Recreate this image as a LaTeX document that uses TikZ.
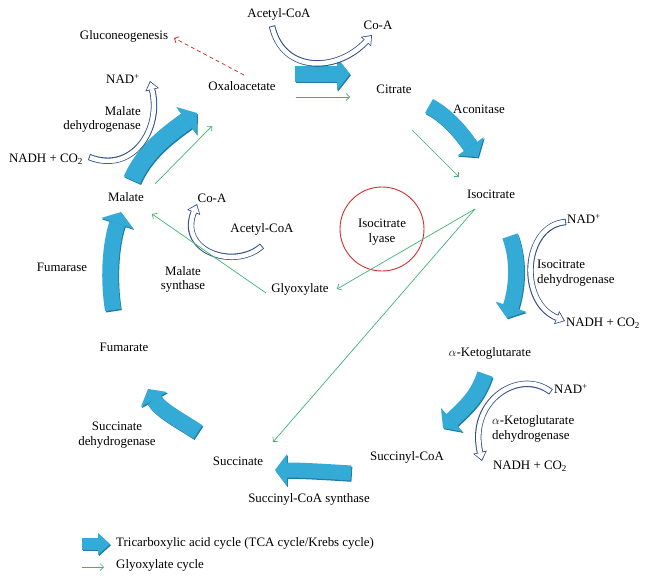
\documentclass[tikz,border=0pt]{standalone}
\usepackage{fontspec}
\setmainfont{Liberation Serif}
\usetikzlibrary{arrows.meta}
\definecolor{tca}{HTML}{33ABD6}
\definecolor{tcadark}{HTML}{1E7BA3}
\definecolor{navyc}{HTML}{2E4C8A}
\definecolor{glyc}{HTML}{3DB36F}
\definecolor{redc}{HTML}{D0302C}
\newcommand\tcaarr[4]{%
  \draw[tcadark, line width=#1, -{Triangle[width=#2,length=#3,line width=0pt]}, transform canvas={shift={(0.9pt,-1.3pt)}}] #4;
  \draw[tca, line width=#1, -{Triangle[width=#2,length=#3,line width=0pt]}] #4;}
\newcommand\hollowarr[1]{%
  \draw[navyc, line width=6.4pt, -{Triangle[width=14pt,length=9pt,line width=0pt]}] #1;
  \draw[white, line width=4.6pt, shorten <=0.9pt, shorten >=1.4pt, -{Triangle[width=11pt,length=6.8pt,line width=0pt]}] #1;}
\begin{document}
\begin{tikzpicture}[x=1pt,y=-1pt,
  lbl/.style={font=\fontsize{12.9}{14.8}\selectfont, inner sep=0pt},
  gly/.style={glyc, line width=0.7pt, -{Straight Barb[length=3.5pt,width=7pt]}}]
\useasboundingbox (0,0) rectangle (649,581);
% TCA block arrows
\tcaarr{16pt}{33pt}{13pt}{(295,74) -- (350,74)}
\tcaarr{16pt}{32pt}{13pt}{(429,106) .. controls (448,116) and (462,134) .. (478,157)}
\tcaarr{16pt}{32pt}{12pt}{(510,236) .. controls (519,260) and (517,288) .. (507,318)}
\tcaarr{16pt}{32pt}{12pt}{(485,374) .. controls (478,395) and (468,405) .. (443,428)}
\tcaarr{15pt}{32pt}{12pt}{(351,473) .. controls (320,471) and (300,470) .. (275,470)}
\tcaarr{16pt}{30pt}{12pt}{(198,432) .. controls (180,420) and (160,410) .. (148,389)}
\tcaarr{16pt}{34pt}{12pt}{(113,310) .. controls (108,280) and (110,245) .. (121,212)}
\tcaarr{18pt}{34pt}{13pt}{(132,180) .. controls (145,150) and (170,133) .. (197,113)}
% hollow cofactor arrows
\hollowarr{(272,26) .. controls (283,74) and (338,72) .. (372,35)}
\hollowarr{(89,157) .. controls (132,174) and (162,130) .. (150,81)}
\hollowarr{(262,246) .. controls (235,270) and (178,252) .. (197,204)}
\hollowarr{(566,222) .. controls (523,225) and (518,302) .. (565,321)}
\hollowarr{(551,392) .. controls (520,368) and (468,400) .. (482,461)}
% labels
\node[lbl] (acoa1) at (279,14) {Acetyl-CoA};
\node[lbl] (coa1) at (378,25) {Co-A};
\node[lbl] (gluco) at (124,36) {Gluconeogenesis};
\node[lbl] (oxa) at (242,86) {Oxaloacetate};
\node[lbl] (cit) at (394,89) {Citrate};
\node[lbl] (nad1) at (123,79) {NAD\textsuperscript{+}};
\node[lbl, anchor=east, align=right] (mdh) at (141,119.5) {Malate\\dehydrogenase};
\node[lbl] (nadh1) at (46,159) {NADH + CO\textsubscript{2}};
\node[lbl] (mal) at (126,197) {Malate};
\node[lbl] (coa2) at (212,198) {Co-A};
\node[lbl] (acoa2) at (262,229) {Acetyl-CoA};
\node[lbl] (fumase) at (62,267) {Fumarase};
\node[lbl, align=center] (ms) at (183,279.5) {Malate\\synthase};
\node[lbl] (glyox) at (300,289) {Glyoxylate};
\node[lbl] (fum) at (124,347) {Fumarate};
\node[lbl] (iso) at (491,194) {Isocitrate};
\node[lbl] (acon) at (479,109) {Aconitase};
\node[circle, draw=redc, line width=0.9pt, minimum size=84pt, inner sep=0pt] (iclc) at (382,229) {};
\node[lbl, align=center] (icl) at (382,232.5) {Isocitrate\\lyase};
\node[lbl] (nad2) at (584,219) {NAD\textsuperscript{+}};
\node[lbl, anchor=west, align=left] (idh) at (537,273) {Isocitrate\\dehydrogenase};
\node[lbl] (nadh2) at (603,323) {NADH + CO\textsubscript{2}};
\node[lbl] (akg) at (490,353) {$\alpha$-Ketoglutarate};
\node[lbl] (nad3) at (571,389) {NAD\textsuperscript{+}};
\node[lbl, anchor=west, align=left] (akgdh) at (492,429) {$\alpha$-Ketoglutarate\\dehydrogenase};
\node[lbl] (nadh3) at (530,466) {NADH + CO\textsubscript{2}};
\node[lbl] (scoa) at (407,457) {Succinyl-CoA};
\node[lbl] (scs) at (309,499) {Succinyl-CoA synthase};
\node[lbl] (succ) at (238,461) {Succinate};
\node[lbl, align=center] (sdh) at (117,435) {Succinate\\dehydrogenase};
% glyoxylate cycle connectors
\coordinate (g1a) at (296,97);  \coordinate (g1b) at (350,97);
\coordinate (g2a) at (155,184); \coordinate (g2b) at (212,126);
\coordinate (g3a) at (412,130); \coordinate (g3b) at (459,177);
\coordinate (g4a) at (475,209); \coordinate (g4b) at (337,289);
\coordinate (g5b) at (273,442);
\coordinate (g6a) at (266,293); \coordinate (g6b) at (152,214);
\coordinate (r1a) at (244,75);  \coordinate (r1b) at (174,38);
\draw[gly] (g1a) -- (g1b);
\draw[gly] (g2a) -- (g2b);
\draw[gly] (g3a) -- (g3b);
\draw[gly] (g4a) -- (g4b);
\draw[gly] (g4a) -- (g5b);
\draw[gly] (g6a) -- (g6b);
\draw[redc, line width=0.75pt, dash pattern=on 4pt off 3pt, -{Straight Barb[length=3.5pt,width=7pt]}] (r1a) -- (r1b);
% legend
\tcaarr{12pt}{22pt}{12pt}{(82,544) -- (110,544)}
\coordinate (l2a) at (82,567); \coordinate (l2b) at (104,567);
\draw[gly] (l2a) -- (l2b);
\node[lbl, anchor=west] (leg1) at (116,543) {Tricarboxylic acid cycle (TCA cycle/Krebs cycle)};
\node[lbl, anchor=west] (leg2) at (116,565) {Glyoxylate cycle};
\end{tikzpicture}
\end{document}
